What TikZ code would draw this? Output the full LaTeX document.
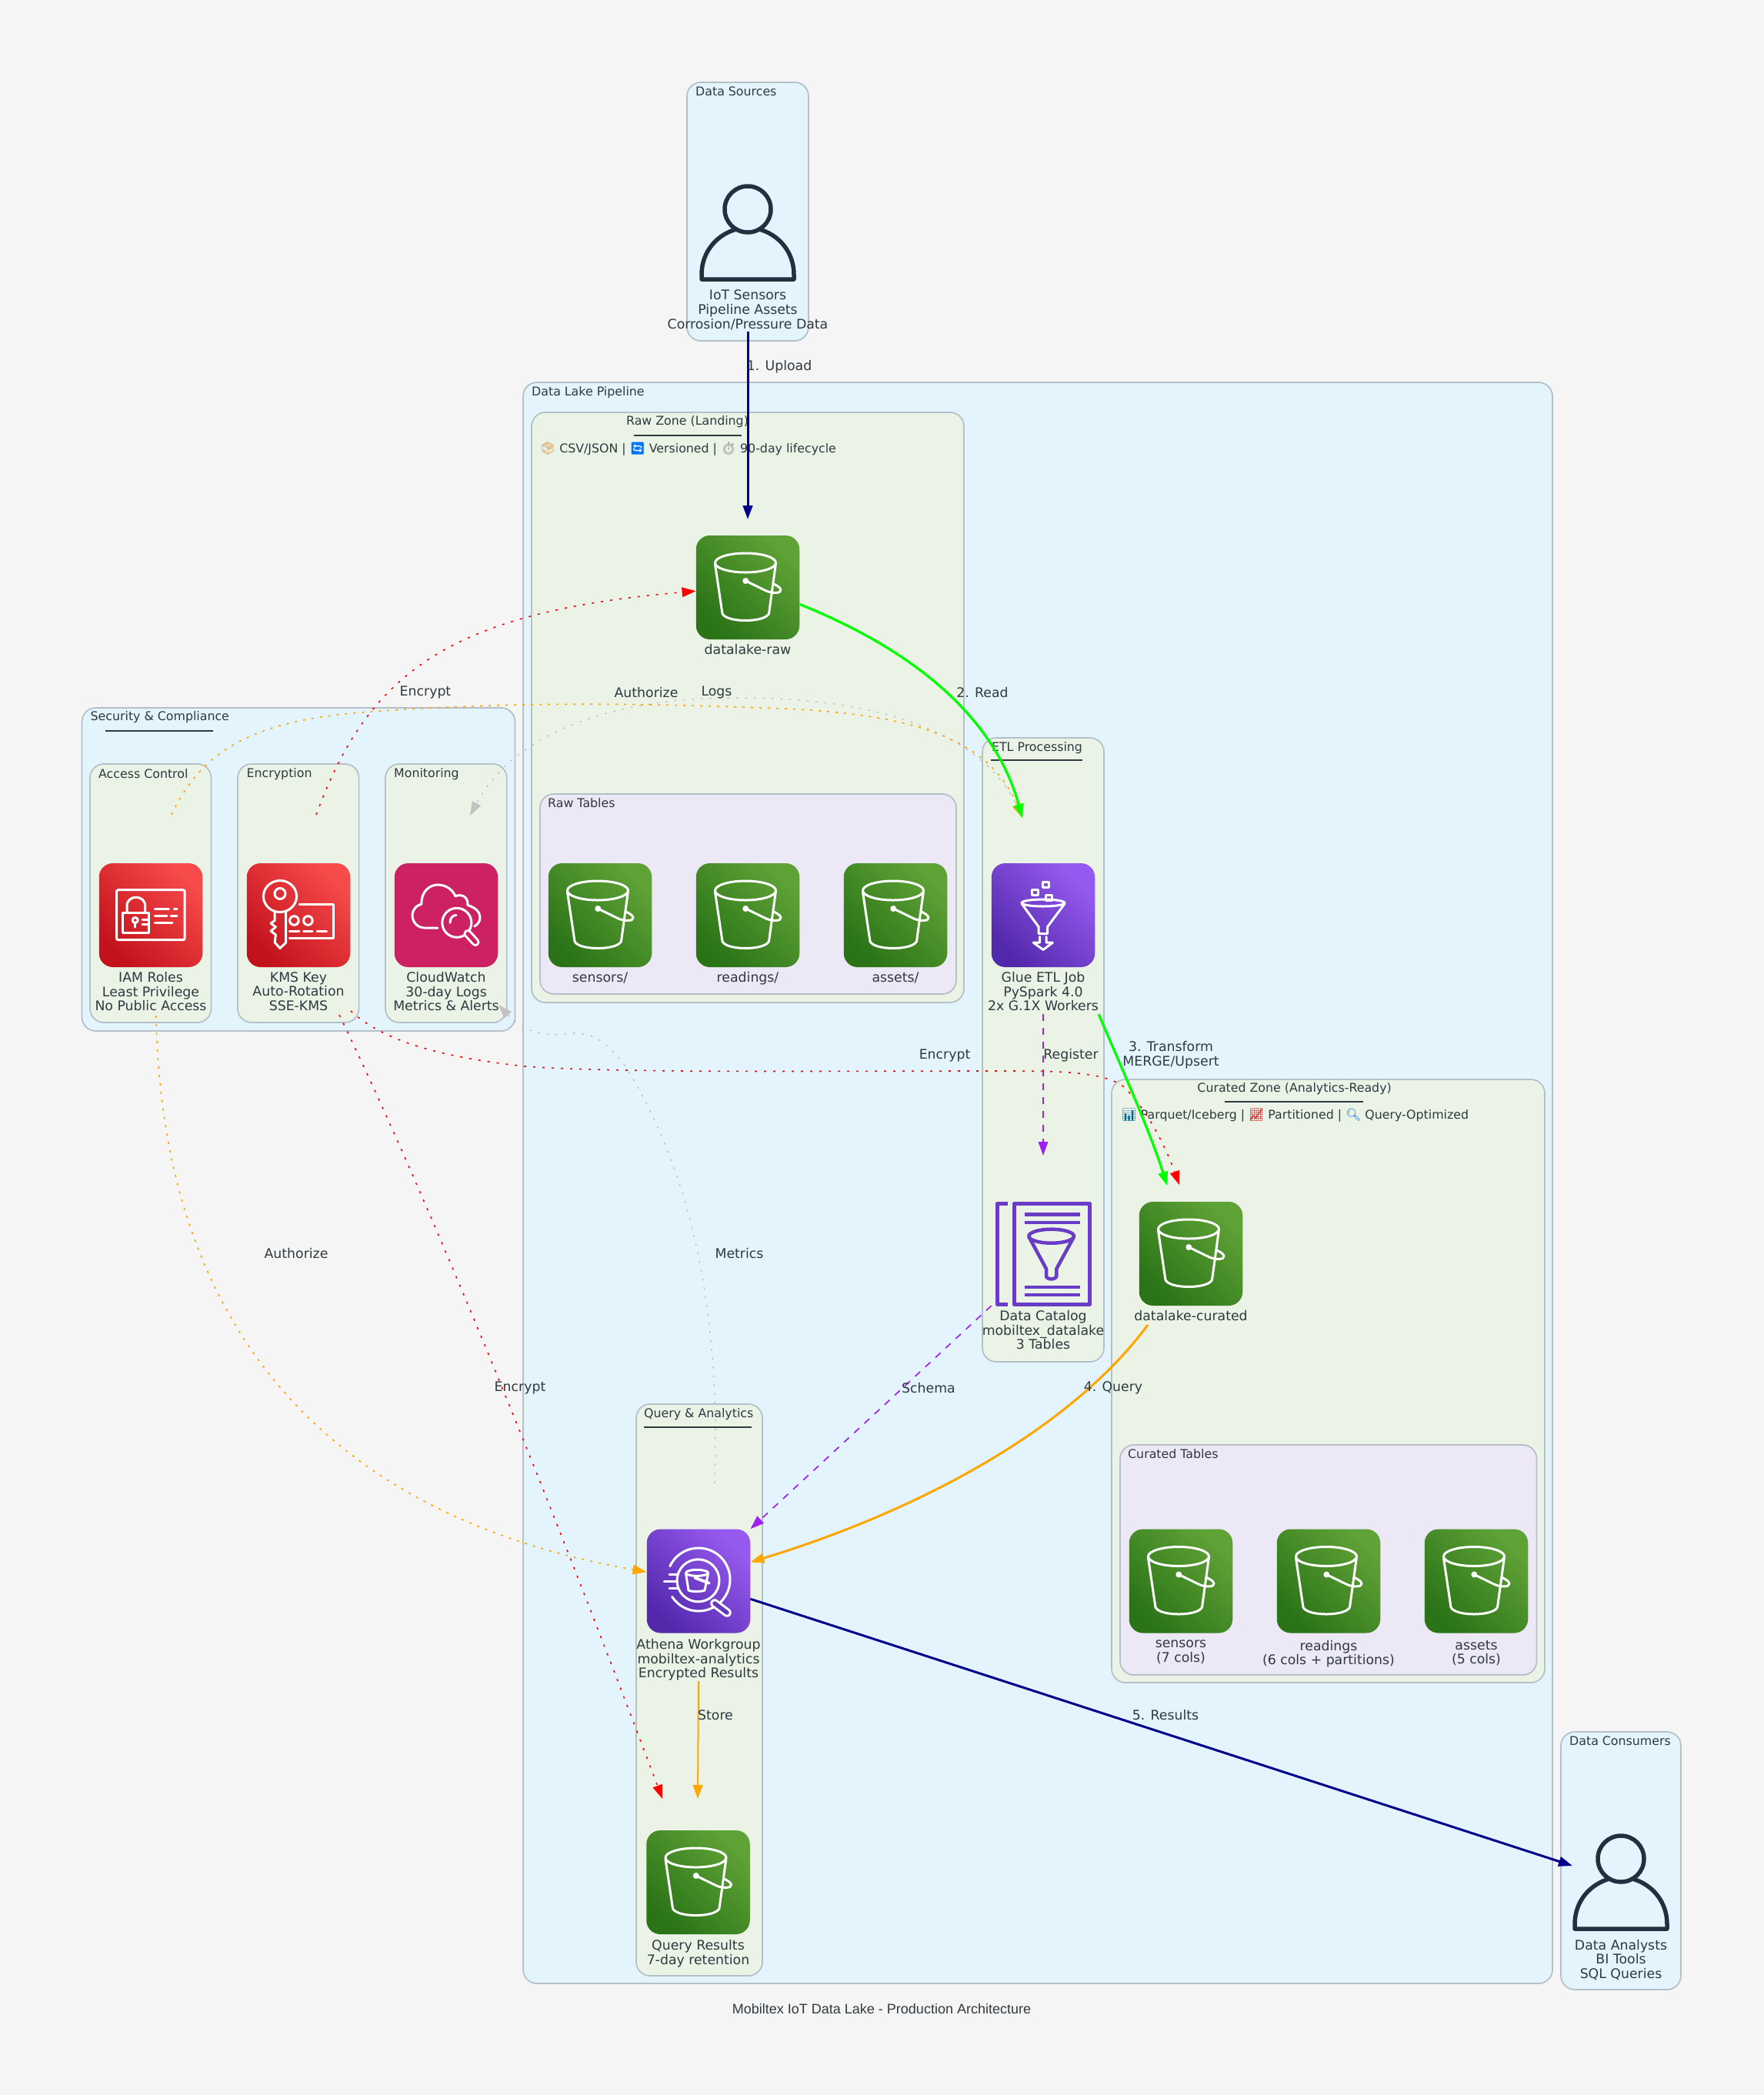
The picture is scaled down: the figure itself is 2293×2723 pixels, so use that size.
\documentclass[tikz,border=0pt]{standalone}
\usepackage{fontspec}
\setmainfont{DejaVu Sans}
\newfontfamily\capfont{Liberation Sans}
\newfontfamily\emojifont{Noto Emoji}
\usepackage{tikz}
\usetikzlibrary{arrows.meta,calc,fit,positioning}
\definecolor{pagebg}{HTML}{F5F5F5}
\definecolor{zoneblue}{HTML}{E3F4FD}
\definecolor{zonegreen}{HTML}{EBF3E7}
\definecolor{zonelilac}{HTML}{ECE8F6}
\definecolor{zoneline}{HTML}{B4BFC8}
\definecolor{inktext}{HTML}{2F393E}
\definecolor{personink}{HTML}{232F3E}
\definecolor{bucketlo}{HTML}{2A7317}
\definecolor{buckethi}{HTML}{5FA236}
\definecolor{redlo}{HTML}{C3121C}
\definecolor{redhi}{HTML}{F74A4B}
\definecolor{purplelo}{HTML}{5329AC}
\definecolor{purplehi}{HTML}{975AF0}
\definecolor{pinkbox}{HTML}{CC2264}
\definecolor{catalogink}{HTML}{693CC5}
\definecolor{greyflow}{HTML}{C2C2C2}
\definecolor{purpleflow}{HTML}{A020F0}
\definecolor{orangeflow}{HTML}{FFA500}
\definecolor{navyflow}{HTML}{00008B}
\definecolor{greenflow}{HTML}{00FF00}
\newcommand{\emo}[2]{{\color{#1}\emojifont #2}}
\tikzset{
    zonebase/.style={
           draw=zoneline, line width=1.7pt,
           rounded corners=18pt,
           inner sep=0pt},
    outerzone/.style={zonebase, fill=zoneblue},
    innerzone/.style={zonebase, fill=zonegreen},
    tablezone/.style={zonebase, fill=zonelilac},
    zonetitle/.style={
           anchor=west, inner sep=0pt,
           text=inktext,
           font=\fontsize{15.8}{18}\selectfont},
    ctitle/.style={zonetitle, anchor=center},
    titlerule/.style={draw=inktext, line width=2.5pt},
    edgelabel/.style={
           inner sep=0pt,
           align=center,
           text=inktext,
           font=\fontsize{17.3}{18.7}\selectfont},
    svclabel/.style={
           edgelabel,
           execute at begin node={\rule{0pt}{13.5pt}},
           execute at end node={\rule[-4pt]{0pt}{4pt}}},
    iconbase/.style={
           rectangle,
           rounded corners=18pt,
           minimum width=134.5pt,
           minimum height=135pt,
           inner sep=0pt},
    bucketbox/.style={iconbase, bottom color=bucketlo, top color=buckethi, shading angle=-45},
    redbox/.style={iconbase, bottom color=redlo, top color=redhi, shading angle=-45},
    purplebox/.style={iconbase, bottom color=purplelo, top color=purplehi, shading angle=-45},
    pinkiconbox/.style={iconbase, fill=pinkbox},
    plainbox/.style={iconbase},
    personbox/.style={minimum width=120pt, minimum height=126pt, inner sep=0pt},
    whiteink/.style={draw=white, line width=3pt, line join=round, line cap=round},
    pil/.style={-{Triangle[length=18pt,width=12.5pt]}},
    navypil/.style={pil, draw=navyflow, line width=3pt},
    greenpil/.style={pil, draw=greenflow, line width=3.2pt},
    orangepil/.style={pil, draw=orangeflow, line width=3pt},
    storepil/.style={pil, draw=orangeflow, line width=2pt},
    purplepil/.style={pil, draw=purpleflow, line width=1.7pt, dash pattern=on 9pt off 9pt},
    redpil/.style={pil, draw=red, line width=1.6pt, dash pattern=on 3pt off 9pt},
    amberpil/.style={pil, draw=orangeflow, line width=1.6pt, dash pattern=on 3pt off 8pt},
    greypil/.style={pil, draw=greyflow, line width=1.5pt, dash pattern=on 2.5pt off 9pt},
    bucketicon/.pic={
        \draw[whiteink] (-3,-32) ellipse[x radius=39.5, y radius=12.5];
        \draw[whiteink] (-42.5,-30) -- (-33,34) .. controls (-28,46) and (22,46) .. (27.5,34) -- (36.3,-30);
        \fill[white] (-2.7,-8.5) circle[radius=4];
        \draw[whiteink] (-2.7,-8.5) -- (24,4.5) .. controls (32,8) and (44,8) .. (43,3) .. controls (42,-1) and (36,-3) .. (33,-5);
    },
    iamicon/.pic={
        \draw[whiteink, rounded corners=2pt] (-44.4,-32.8) rectangle (44,32.2);
        \draw[whiteink] (-36.7,-3.5) rectangle (-2.3,22.8);
        \draw[whiteink] (-31,-3.5) -- (-31,-12) .. controls (-31,-27) and (-7.3,-27) .. (-7.3,-12) -- (-7.3,-3.5);
        \draw[whiteink] (-20.3,6.5) circle[radius=3.5];
        \draw[whiteink] (-20.3,10) -- (-20.3,15.5);
        \draw[whiteink] (-11,5.5) -- (-4,5.5);
        \draw[whiteink] (-11,12) -- (-4,12);
        \draw[whiteink] (5.4,-8.5) -- (23.4,-8.5);
        \draw[whiteink] (30.3,-8.5) -- (34,-8.5);
        \draw[whiteink] (5.4,0.5) -- (21,0.5);
        \draw[whiteink] (26,0.5) -- (34,0.5);
        \draw[whiteink] (5.4,9.5) -- (28,9.5);
    },
    kmsicon/.pic={
        \draw[whiteink] (-24,-24.5) ellipse[x radius=21.6, y radius=20.5];
        \draw[whiteink] (-24,-28) circle[radius=7];
        \draw[whiteink, fill=none] (-30.8,-4) -- (-30.8,7) -- (-36,10.5) -- (-29.6,15.5) -- (-36,20.5) -- (-29.6,25.5) -- (-30.8,35.5) -- (-24,43) -- (-16.3,35.5) -- (-16.3,-4);
        \draw[whiteink] (1,-14.5) -- (45,-14.5) -- (45,30) -- (-11.7,30);
        \draw[whiteink] (-5.6,7) circle[radius=5.8];
        \draw[whiteink] (12.4,7) circle[radius=5.8];
        \draw[whiteink] (-11.7,20.5) -- (1,20.5);
        \draw[whiteink] (6.7,20.5) -- (18,20.5);
        \draw[whiteink] (24,20.5) -- (36.6,20.5);
    },
    watchicon/.pic={
        \draw[whiteink] (-11,16.5) -- (-28,16.5) .. controls (-38,16.5) and (-44,8) .. (-44,0.5) .. controls (-44,-8) and (-38,-13) .. (-32,-14.5)
            .. controls (-33,-30) and (-22,-39.5) .. (-11,-39.5) .. controls (1,-39.5) and (9,-32) .. (12,-24.5)
            .. controls (18,-28) and (29,-25) .. (28,-13) .. controls (38,-10) and (44,-4) .. (44,3) .. controls (44,8) and (41,12) .. (36.7,14.5);
        \draw[whiteink] (13.8,9.8) circle[radius=19];
        \draw[whiteink] (5,9.8) .. controls (5,3) and (9,0) .. (13,0);
        \draw[draw=white, line width=11pt, line cap=round] (28,24) -- (38,35);
        \draw[draw=pinkbox, line width=5pt, line cap=round] (28,24) -- (38,35);
    },
    glueicon/.pic={
        \draw[whiteink] (-15,-33.5) rectangle (-7,-26);
        \draw[whiteink] (-0.5,-43) rectangle (7.5,-36);
        \draw[whiteink] (3.5,-26.5) rectangle (11,-19.5);
        \draw[whiteink] (0,-16) ellipse[x radius=28, y radius=4.5];
        \draw[whiteink] (-28,-15) -- (-6,15) -- (-6,24) -- (5.7,24) -- (5.7,15) -- (28,-15);
        \draw[whiteink] (-4.3,28) -- (-4.3,35.7) -- (-12.7,35.7) -- (0,45) -- (12.3,35.7) -- (4,35.7) -- (4,28);
    },
    catalogicon/.pic={
        \draw[draw=catalogink, line width=5pt, line join=round] (-46,-65) -- (-60,-65) -- (-60,65.6) -- (-46,65.6);
        \draw[draw=catalogink, line width=5pt, line join=round] (-37.7,-65) rectangle (60.7,65.6);
        \draw[draw=catalogink, line width=4.5pt] (-24.3,-51) -- (48.3,-51);
        \draw[draw=catalogink, line width=4.5pt] (-24.3,-40.6) -- (48.3,-40.6);
        \draw[draw=catalogink, line width=4.5pt] (-24.3,43.3) -- (48.3,43.3);
        \draw[draw=catalogink, line width=4.5pt] (-24.3,53.6) -- (48.3,53.6);
        \draw[draw=catalogink, line width=4.5pt] (10.7,-22.8) ellipse[x radius=29.3, y radius=9];
        \draw[draw=catalogink, line width=4.5pt, line join=round] (-18.6,-22) -- (4,19.6) -- (4,30) .. controls (6,34) and (15,34) .. (17.3,30) -- (17.3,19.6) -- (40,-22);
    },
    athenaicon/.pic={
        \draw[whiteink] (0,-2) ++(205:41) arc[start angle=205, end angle=507, radius=41];
        \draw[whiteink] (-0.5,-0.7) circle[radius=27.5];
        \draw[whiteink] (-2,-10.7) ellipse[x radius=14.5, y radius=4];
        \draw[whiteink] (-16.5,-10) -- (-13,12) .. controls (-10,14) and (4,14) .. (8,12) -- (12.5,-10);
        \draw[whiteink, line width=3.8pt] (-4.7,-4.3) -- (13.7,2.7);
        \draw[whiteink] (-38,-9) -- (-28,-9);
        \draw[whiteink] (-44.7,0) -- (-28,0);
        \draw[whiteink] (-38,9.3) -- (-28,9.3);
        \draw[draw=white, line width=11.5pt, line cap=round] (21,29) -- (37,41);
        \draw[draw=purplelo!70!purplehi, line width=5.5pt, line cap=round] (21,29) -- (37,41);
    },
    personicon/.pic={
        \draw[draw=personink, line width=5.5pt] (0,0) circle[radius=30];
        \draw[draw=personink, line width=5.5pt, line join=round] (-15,26) .. controls (-40,33) and (-60,55) .. (-60,85) -- (-60,91) -- (60,91) -- (60,85) .. controls (60,55) and (40,33) .. (15,26);
    }
}

\begin{document}
\begin{tikzpicture}[x=1pt, y=-1pt, node distance=6pt]
        \fill[pagebg] (0,0) rectangle (2293,2723);
        \useasboundingbox (0,0) rectangle (2293,2723);

        % zones
        \node[outerzone, fit={(893,107) (1051,443)}] (srczone) {};
        \node[outerzone, fit={(680,497) (2018,2578)}] (lakezone) {};
        \node[outerzone, fit={(106.5,920) (669.5,1340)}] (seczone) {};
        \node[outerzone, fit={(2029,2251) (2185,2586)}] (usrzone) {};
        \node[innerzone, fit={(691,536) (1253,1303)}] (rawzone) {};
        \node[tablezone, fit={(702,1032) (1243,1292)}] (rawtabs) {};
        \node[innerzone, fit={(1277,959) (1435,1770)}] (etlzone) {};
        \node[innerzone, fit={(1445,1403) (2008,2187)}] (curzone) {};
        \node[tablezone, fit={(1456,1878) (1997.5,2177)}] (curtabs) {};
        \node[innerzone, fit={(827,1825) (991,2568)}] (qryzone) {};
        \node[innerzone, fit={(117,993) (274.5,1329)}] (acczone) {};
        \node[innerzone, fit={(309,993) (466.6,1329)}] (enczone) {};
        \node[innerzone, fit={(501,993) (658.7,1329)}] (monzone) {};

        % zone titles
        \node[zonetitle] (srctitle) at (904,119) {Data Sources};
        \node[zonetitle] (laketitle) at (691,510) {Data Lake Pipeline};
        \node[zonetitle] (sectitle) at (117.5,932) {Security \& Compliance};
        \node[zonetitle] (usrtitle) at (2040,2263) {Data Consumers};
        \node[ctitle] (rawtitle) at (893.5,548) {Raw Zone (Landing)};
        \node[zonetitle] (rawsub) at (702,583) {\emo{brown!75!orange}{📦} CSV/JSON | \emo{blue!55!cyan}{🔄} Versioned | \emo{black!45}{⏱} 90-day lifecycle};
        \node[zonetitle] (rawtabtitle) at (712,1044) {Raw Tables};
        \node[ctitle] (etltitle) at (1348,972) {ETL Processing};
        \node[ctitle] (curtitle) at (1682.6,1415) {Curated Zone (Analytics-Ready)};
        \node[zonetitle] (cursub) at (1457.5,1450) {\emo{blue!60!green}{📊} Parquet/Iceberg | \emo{red!80!black}{📈} Partitioned | \emo{blue!60!cyan}{🔍} Query-Optimized};
        \node[zonetitle] (curtabtitle) at (1466,1890) {Curated Tables};
        \node[zonetitle] (qrytitle) at (837,1838) {Query \& Analytics};
        \node[zonetitle] (acctitle) at (128,1006) {Access Control};
        \node[zonetitle] (enctitle) at (320.5,1006) {Encryption};
        \node[zonetitle] (montitle) at (512,1006) {Monitoring};
        \draw[titlerule] (137,950) -- (277,950);
        \draw[titlerule] (824,566) -- (964,566);
        \draw[titlerule] (1288,988) -- (1407,988);
        \draw[titlerule] (1592,1432) -- (1772,1432);
        \draw[titlerule] (837,1855) -- (977,1855);

        % people
        \node[personbox] (iot) at (972,303) {};
        \pic at (972,272) {personicon};
        \node[svclabel, below=10.5pt of iot] (iotlbl) {IoT Sensors\\Pipeline Assets\\Corrosion/Pressure Data};
        \node[personbox] (users) at (2107,2447) {};
        \pic at (2107,2416) {personicon};
        \node[svclabel, below=10.5pt of users] (userslbl) {Data Analysts\\BI Tools\\SQL Queries};

        % raw zone
        \node[bucketbox] (raw) at (972,763.5) {};
        \pic at (raw) {bucketicon};
        \node[svclabel, below=of raw] (rawlbl) {datalake-raw};
        \node[bucketbox] (rawsens) at (780,1189.5) {};
        \pic at (rawsens) {bucketicon};
        \node[svclabel, below=of rawsens] (rawsenslbl) {sensors/};
        \node[bucketbox] (rawread) at (972,1189.5) {};
        \pic at (rawread) {bucketicon};
        \node[svclabel, below=of rawread] (rawreadlbl) {readings/};
        \node[bucketbox] (rawasset) at (1164,1189.5) {};
        \pic at (rawasset) {bucketicon};
        \node[svclabel, below=of rawasset] (rawassetlbl) {assets/};

        % security
        \node[redbox] (iam) at (196,1189.5) {};
        \pic at (iam) {iamicon};
        \node[svclabel, below=of iam] (iamlbl) {IAM Roles\\Least Privilege\\No Public Access};
        \node[redbox] (kms) at (388,1189.5) {};
        \pic at (kms) {kmsicon};
        \node[svclabel, below=of kms] (kmslbl) {KMS Key\\Auto-Rotation\\SSE-KMS};
        \node[pinkiconbox] (watch) at (580,1189.5) {};
        \pic at (watch) {watchicon};
        \node[svclabel, below=of watch] (watchlbl) {CloudWatch\\30-day Logs\\Metrics \& Alerts};

        % etl
        \node[purplebox] (glue) at (1356,1189.5) {};
        \pic at (glue) {glueicon};
        \node[svclabel, below=of glue] (gluelbl) {Glue ETL Job\\PySpark 4.0\\2x G.1X Workers};
        \node[plainbox] (catalog) at (1356,1629.5) {};
        \pic at (catalog) {catalogicon};
        \node[svclabel, below=of catalog] (cataloglbl) {Data Catalog\\mobiltex\_datalake\\3 Tables};

        % curated zone
        \node[bucketbox] (cur) at (1548,1629.5) {};
        \pic at (cur) {bucketicon};
        \node[svclabel, below=of cur] (curlbl) {datalake-curated};
        \node[bucketbox] (cursens) at (1535,2055) {};
        \pic at (cursens) {bucketicon};
        \node[svclabel, below=9pt of cursens] (cursenslbl) {sensors\\(7 cols)};
        \node[bucketbox] (curread) at (1727,2055) {};
        \pic at (curread) {bucketicon};
        \node[svclabel, below=9pt of curread] (curreadlbl) {readings\\(6 cols + partitions)};
        \node[bucketbox] (curasset) at (1919,2055) {};
        \pic at (curasset) {bucketicon};
        \node[svclabel, below=9pt of curasset] (curassetlbl) {assets\\(5 cols)};

        % query
        \node[purplebox] (athena) at (908,2055) {};
        \pic at (athena) {athenaicon};
        \node[svclabel, below=7.5pt of athena] (athenalbl) {Athena Workgroup\\mobiltex-analytics\\Encrypted Results};
        \node[bucketbox] (qres) at (907.5,2446.5) {};
        \pic at (qres) {bucketicon};
        \node[svclabel, below=7pt of qres] (qreslbl) {Query Results\\7-day retention};

        % free ends of the connectors
        \coordinate (rawin) at (972,675);
        \coordinate (gluein) at (1329,1063);
        \coordinate (catalogin) at (1356,1502);
        \coordinate (curgreen) at (1517,1541);
        \coordinate (curred) at (1533,1540);
        \coordinate (curout) at (1492,1722);
        \coordinate (qresin) at (907,2338);
        \coordinate (qresred) at (861,2338);
        \coordinate (usersin) at (2044,2425);
        \coordinate (iamtop) at (223,1059);
        \coordinate (iambot) at (203,1320);
        \coordinate (kmstop) at (411,1059);
        \coordinate (kmsbota) at (441,1319);
        \coordinate (kmsbotb) at (456,1314);
        \coordinate (watchtop) at (611,1060);
        \coordinate (watchbot) at (648,1306);
        \coordinate (athenatop) at (929,1928);

        % connectors
        \draw[greypil] (gluein) .. controls (1290,960) and (1160,905) .. (948,907) .. controls (800,908) and (670,950) .. (watchtop);
        \draw[greypil] (athenatop) .. controls (935,1750) and (915,1550) .. (813,1386) .. controls (785,1350) and (770,1342) .. (740,1343) .. controls (700,1350) and (675,1335) .. (watchbot);
        \draw[amberpil] (iamtop) .. controls (262,975) and (330,935) .. (483,925) .. controls (650,913) and (800,913) .. (990,920) .. controls (1150,925) and (1280,945) .. (gluein);
        \draw[amberpil] (iambot) .. controls (210,1720) and (420,1970) .. (athena.170);
        \draw[redpil] (kmstop) .. controls (480,870) and (590,795) .. (raw.184);
        \draw[redpil] (kmsbota) .. controls (475,1390) and (610,1670) .. (qresred);
        \draw[redpil] (kmsbotb) .. controls (500,1355) and (580,1375) .. (683,1386) .. controls (800,1395) and (1100,1392) .. (1260,1392) .. controls (1360,1392) and (1430,1390) .. (1460,1412) .. controls (1490,1440) and (1515,1490) .. (curred);
        \draw[purplepil] (gluelbl.south) -- (catalogin);
        \draw[purplepil] (catalog.south west) -- (athena.north east);
        \draw[navypil] (iotlbl.south) -- (rawin);
        \draw[greenpil] (raw.-18) .. controls (1200,850) and (1295,940) .. (gluein);
        \draw[greenpil] (gluelbl.south east) .. controls (1450,1370) and (1495,1470) .. (curgreen);
        \draw[orangepil] (curout) .. controls (1390,1860) and (1190,1965) .. (athena.20);
        \draw[navypil] (athena.-19) -- (usersin);
        \draw[storepil] (athenalbl.south) -- (qresin);

        % connector labels
        \node[edgelabel] (uploadlbl) at (1013,477) {1. Upload};
        \node[edgelabel] (readlbl) at (1277,900) {2. Read};
        \node[edgelabel] (transformlbl) at (1522,1371) {3. Transform\\MERGE/Upsert};
        \node[edgelabel] (querylbl) at (1447,1804) {4. Query};
        \node[edgelabel] (resultslbl) at (1515,2229) {5. Results};
        \node[edgelabel] (storelbl) at (930,2229) {Store};
        \node[edgelabel] (registerlbl) at (1392,1372) {Register};
        \node[edgelabel] (schemalbl) at (1207,1804) {Schema};
        \node[edgelabel] (encrawlbl) at (553,900) {Encrypt};
        \node[edgelabel] (enccurlbl) at (1228,1372) {Encrypt};
        \node[edgelabel] (encqrylbl) at (676,1804) {Encrypt};
        \node[edgelabel] (authtoplbl) at (840,900) {Authorize};
        \node[edgelabel] (authbotlbl) at (385,1629) {Authorize};
        \node[edgelabel] (logslbl) at (931.5,900) {Logs};
        \node[edgelabel] (metricslbl) at (961,1629) {Metrics};

        \node[inner sep=0pt, text=inktext, font=\capfont\fontsize{18}{22}\selectfont] (caption) at (1146,2611) {Mobiltex IoT Data Lake - Production Architecture};
\end{tikzpicture}
\end{document}
